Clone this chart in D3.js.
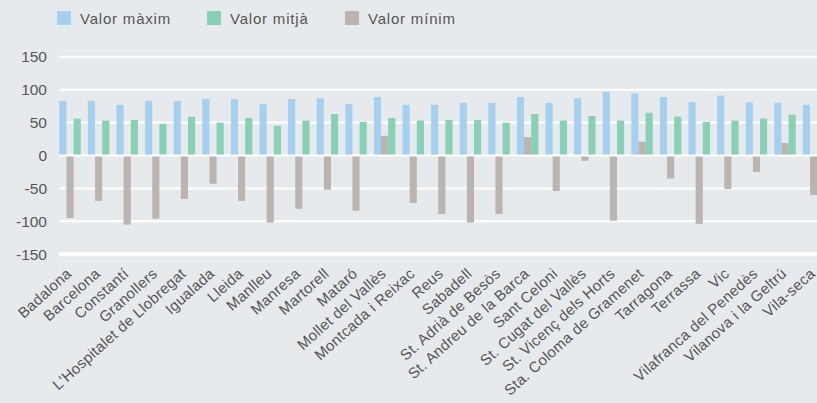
<!DOCTYPE html>
<html>
<head>
<meta charset="utf-8">
<script src="https://cdn.jsdelivr.net/npm/d3@7"></script>
<style>
  body { margin: 0; background: #e7eaed; }
  svg { display: block; font-family: "Liberation Sans", Arial, sans-serif; }
</style>
</head>
<body>
<div id="wrapper"></div>
<script>
// 1. Data
const cities = ["Badalona", "Barcelona", "Constantí", "Granollers", "L'Hospitalet de Llobregat",
  "Igualada", "Lleida", "Manlleu", "Manresa", "Martorell", "Mataró", "Mollet del Vallès",
  "Montcada i Reixac", "Reus", "Sabadell", "St. Adrià de Besòs", "St. Andreu de la Barca",
  "Sant Celoni", "St. Cugat del Vallès", "St. Vicenç dels Horts", "Sta. Coloma de Gramenet",
  "Tarragona", "Terrassa", "Vic", "Vilafranca del Penedès", "Vilanova i la Geltrú", "Vila-seca"]
const valorMaxim = [83, 83, 77, 83, 83, 86, 86, 78, 86, 87, 78, 89, 77, 77, 80, 80, 89,
  80, 87, 97, 94, 89, 81, 91, 81, 80, 77]
const valorMitja = [56, 53, 54, 48, 59, 50, 57, 45, 53, 63, 51, 57, 53, 54, 54, 50, 63,
  53, 60, 53, 65, 59, 51, 53, 56, 62, 56]
const valorMinim = [-95, -69, -105, -96, -66, -43, -69, -102, -81, -52, -84, 30, -72, -89, -102, -89, 28,
  -54, -8, -99, 21, -35, -104, -51, -25, 19, -60]
const seriesNames = ["Valor màxim", "Valor mitjà", "Valor mínim"]
const yTicks = [-150, -100, -50, 0, 50, 100, 150]

const colors = {
  "Valor màxim": "#a6d0ef",
  "Valor mitjà": "#88d0b6",
  "Valor mínim": "#bcb4b1"
}
// order of the bars inside a group: max, min, mitja
const barOrder = ["Valor màxim", "Valor mínim", "Valor mitjà"]

const rows = cities.map((c, i) => ({
  city: c,
  "Valor màxim": valorMaxim[i],
  "Valor mitjà": valorMitja[i],
  "Valor mínim": valorMinim[i]
}))

// 2. Dimensions
const dimensions = { width: 817, height: 403 }
const plotLeft = 59.3
const textColor = "#555"

// 3. Canvas
const svg = d3.select("#wrapper").append("svg")
  .attr("width", dimensions.width)
  .attr("height", dimensions.height)

svg.append("rect")
  .attr("width", dimensions.width)
  .attr("height", dimensions.height)
  .attr("fill", "#e7eaed")

// 4. Scales
const xScale = d3.scaleBand()
  .domain(cities)
  .range([plotLeft, plotLeft + 28.6 * 26.75])
  .paddingInner(0.25)
  .paddingOuter(0)

const xSub = d3.scaleBand()
  .domain(barOrder)
  .range([0, xScale.bandwidth()])

const yScale = d3.scaleLinear()
  .domain([-150, 150])
  .range([254.2, 56.8])

// 5. Gridlines + y labels
svg.append("g")
  .selectAll("line")
  .data(yTicks)
  .join("line")
  .attr("x1", plotLeft)
  .attr("x2", dimensions.width)
  .attr("y1", d => yScale(d))
  .attr("y2", d => yScale(d))
  .attr("stroke", "#ffffff")
  .attr("stroke-width", d => d === -150 ? 4 : 2)

svg.append("g")
  .selectAll("text")
  .data(yTicks)
  .join("text")
  .attr("x", 47)
  .attr("y", d => yScale(d))
  .attr("dy", "0.36em")
  .attr("text-anchor", "end")
  .attr("fill", textColor)
  .style("font-size", "15.5px")
  .text(d => d)

// 6. Bars
const groups = svg.append("g")
  .selectAll("g")
  .data(rows)
  .join("g")
  .attr("transform", d => `translate(${xScale(d.city)},0)`)

groups.selectAll("rect")
  .data(d => barOrder.map(k => ({ key: k, value: d[k] })))
  .join("rect")
  .attr("x", d => xSub(d.key))
  .attr("width", xSub.bandwidth())
  .attr("y", d => d.value >= 0 ? yScale(d.value) : yScale(0) + 1)
  .attr("height", d => d.value >= 0 ? yScale(0) - 1 - yScale(d.value) : yScale(d.value) - yScale(0) - 1)
  .attr("fill", d => colors[d.key])

// 7. Category labels
svg.append("g")
  .selectAll("text")
  .data(cities)
  .join("text")
  .attr("transform", d => `translate(${xScale(d) + xScale.bandwidth() / 2 + 2.5},275) rotate(-42)`)
  .attr("text-anchor", "end")
  .attr("fill", textColor)
  .style("font-size", "15px")
  .style("letter-spacing", "0.3px")
  .text(d => d)

// 8. Legend
const legendX = [57, 207, 345]
const legend = svg.append("g")
  .selectAll("g")
  .data(seriesNames)
  .join("g")
  .attr("transform", (d, i) => `translate(${legendX[i]},11)`)

legend.append("rect")
  .attr("width", 14)
  .attr("height", 14)
  .attr("fill", d => colors[d])

legend.append("text")
  .attr("x", 23)
  .attr("y", 13)
  .attr("fill", textColor)
  .style("font-size", "15px")
  .style("letter-spacing", "0.8px")
  .text(d => d)
</script>
</body>
</html>
